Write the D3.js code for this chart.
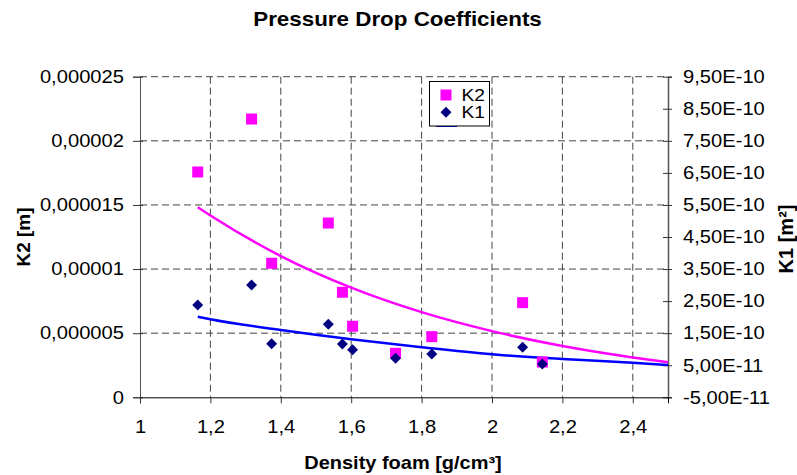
<!DOCTYPE html>
<html>
<head>
<meta charset="utf-8">
<script src="https://cdn.jsdelivr.net/npm/d3@7"></script>
<style>
  body { margin: 0; background: #fff; }
  text { font-family: Arial, "Liberation Sans", sans-serif; fill: #000; }
</style>
</head>
<body>
<div id="vis"></div>
<script>
'use strict';

// values
var density = [1.164, 1.317, 1.374, 1.535, 1.575, 1.604, 1.726, 1.829, 2.087, 2.143];
var k2 = [1.757e-5, 2.170e-5, 1.045e-5, 1.359e-5, 0.819e-5, 0.554e-5, 0.343e-5, 0.473e-5, 0.738e-5, 0.275e-5];
var k1 = [2.379e-10, 3.003e-10, 1.172e-10, 1.777e-10, 1.163e-10, 0.985e-10, 0.716e-10, 0.851e-10, 1.060e-10, 0.539e-10];

// trend lines as they appear in the picture
var trendX = [1.164, 1.2, 1.4, 1.6, 1.8, 2.0, 2.2, 2.4, 2.5];
var k2Trend = [1.482e-5, 1.418e-5, 1.101e-5, 0.855e-5, 0.664e-5, 0.516e-5, 0.400e-5, 0.311e-5, 0.274e-5];
var k1Trend = [2.014e-10, 1.933e-10, 1.599e-10, 1.309e-10, 1.060e-10, 0.841e-10, 0.695e-10, 0.579e-10, 0.507e-10];

// tick values and labels
var xTicks = [1, 1.2, 1.4, 1.6, 1.8, 2, 2.2, 2.4];
var xTickLabels = ['1', '1,2', '1,4', '1,6', '1,8', '2', '2,2', '2,4'];
var leftTicks = [0, 0.000005, 0.00001, 0.000015, 0.00002, 0.000025];
var leftTickLabels = ['0', '0,000005', '0,00001', '0,000015', '0,00002', '0,000025'];
var rightTicks = [-5e-11, 5e-11, 1.5e-10, 2.5e-10, 3.5e-10, 4.5e-10, 5.5e-10, 6.5e-10, 7.5e-10, 8.5e-10, 9.5e-10];
var rightTickLabels = ['-5,00E-11', '5,00E-11', '1,50E-10', '2,50E-10', '3,50E-10', '4,50E-10',
                       '5,50E-10', '6,50E-10', '7,50E-10', '8,50E-10', '9,50E-10'];

var width = 797, height = 475;
var plot = { left: 140, right: 668, top: 76.7, bottom: 397.3 };
var stretch = 1.12; // the text in the picture is a bit wider than Arial

var svg = d3.select('#vis').append('svg')
    .attr('width', width)
    .attr('height', height);
svg.append('rect').attr('width', width).attr('height', height).attr('fill', '#fff');

var x = d3.scaleLinear().domain([1, 2.5]).range([plot.left, plot.right]);
var yL = d3.scaleLinear().domain([0, 0.000025]).range([plot.bottom, plot.top]);
var yR = d3.scaleLinear().domain([-5e-11, 9.5e-10]).range([plot.bottom, plot.top]);

// grid
var grid = svg.append('g').attr('stroke', '#444').attr('stroke-dasharray', '7,4').attr('stroke-width', 1);
grid.selectAll('.h').data(leftTicks.slice(1)).enter().append('line')
    .attr('x1', plot.left).attr('x2', plot.right)
    .attr('y1', function(d) { return yL(d); }).attr('y2', function(d) { return yL(d); });
grid.selectAll('.v').data(xTicks.slice(1)).enter().append('line')
    .attr('y1', plot.top).attr('y2', plot.bottom)
    .attr('x1', function(d) { return x(d); }).attr('x2', function(d) { return x(d); });

// axes
var leftAxis = d3.axisLeft(yL).tickValues(leftTicks)
    .tickFormat(function(d, i) { return leftTickLabels[i]; }).tickSizeOuter(0).tickSize(7);
var gl = svg.append('g').attr('transform', 'translate(' + plot.left + ',0)').call(leftAxis);
gl.select('.domain').attr('stroke', '#555');
gl.selectAll('.tick line').attr('stroke', '#333').attr('x1', 3);
gl.selectAll('.tick text').attr('x', 0).attr('transform', 'translate(-16,0) scale(' + stretch + ',1)');

var rightAxis = d3.axisRight(yR).tickValues(rightTicks)
    .tickFormat(function(d, i) { return rightTickLabels[i]; }).tickSizeOuter(0).tickSize(4);
var gr = svg.append('g').attr('transform', 'translate(' + plot.right + ',0)').call(rightAxis);
gr.select('.domain').attr('stroke', '#555').attr('stroke-width', 1.5);
gr.selectAll('.tick line').attr('stroke', '#333').attr('x1', -5);
gr.selectAll('.tick text').attr('x', 0).attr('transform', 'translate(15,0) scale(' + stretch + ',1)');

var bottomAxis = d3.axisBottom(x).tickValues(xTicks)
    .tickFormat(function(d, i) { return xTickLabels[i]; }).tickSizeOuter(0).tickSize(6);
var gb = svg.append('g').attr('transform', 'translate(0,' + plot.bottom + ')').call(bottomAxis);
gb.select('.domain').attr('stroke', '#000');
gb.selectAll('.tick line').attr('stroke', '#333');
gb.selectAll('.tick text').attr('y', 0).attr('dy', 0)
    .attr('transform', 'translate(0,36) scale(' + stretch + ',1)');

svg.selectAll('.tick text').attr('font-size', 18).attr('font-family', 'Arial, "Liberation Sans", sans-serif');

// trend lines
var lineK2 = d3.line().x(function(d, i) { return x(trendX[i]); }).y(function(d) { return yL(d); })
    .curve(d3.curveMonotoneX);
var lineK1 = d3.line().x(function(d, i) { return x(trendX[i]); }).y(function(d) { return yR(d); })
    .curve(d3.curveMonotoneX);
svg.append('path').attr('d', lineK2(k2Trend)).attr('fill', 'none')
    .attr('stroke', '#ff00ff').attr('stroke-width', 2.5);
svg.append('path').attr('d', lineK1(k1Trend)).attr('fill', 'none')
    .attr('stroke', '#0000ff').attr('stroke-width', 2.5);

// markers
var square = d3.symbol().type(d3.symbolSquare).size(121);
var diamond = d3.symbol().type(d3.symbolSquare).size(60);
svg.append('g').selectAll('path').data(density).enter().append('path')
    .attr('d', square)
    .attr('transform', function(d, i) { return 'translate(' + x(d) + ',' + yL(k2[i]) + ')'; })
    .attr('fill', '#ff00ff');
svg.append('g').selectAll('path').data(density).enter().append('path')
    .attr('d', diamond)
    .attr('transform', function(d, i) { return 'translate(' + x(d) + ',' + yR(k1[i]) + ') rotate(45)'; })
    .attr('fill', '#000080');

// legend
var legend = svg.append('g');
legend.append('line').attr('x1', 436).attr('x2', 457).attr('y1', 126).attr('y2', 126)
    .attr('stroke', '#0000ff').attr('stroke-width', 2);
legend.append('rect').attr('x', 429.5).attr('y', 81.5).attr('width', 60).attr('height', 44.5)
    .attr('fill', '#fff').attr('stroke', '#000').attr('stroke-width', 1);
legend.append('path').attr('d', square).attr('transform', 'translate(446,95)').attr('fill', '#ff00ff');
legend.append('path').attr('d', diamond).attr('transform', 'translate(446,112.3) rotate(45)').attr('fill', '#000080');
legend.append('text').attr('transform', 'translate(461.5,100.5) scale(1.2,1)').attr('font-size', 16).text('K2');
legend.append('text').attr('transform', 'translate(461.5,118) scale(1.2,1)').attr('font-size', 16).text('K1');

// titles
svg.append('text').attr('transform', 'translate(397.5,26) scale(' + stretch + ',1)')
    .attr('text-anchor', 'middle').attr('font-size', 20).attr('font-weight', 'bold')
    .text('Pressure Drop Coefficients');
svg.append('text').attr('transform', 'translate(403,469) scale(1.11,1)')
    .attr('text-anchor', 'middle').attr('font-size', 18).attr('font-weight', 'bold')
    .text('Density foam [g/cm³]');
svg.append('text').attr('transform', 'translate(30,237) rotate(-90)')
    .attr('text-anchor', 'middle').attr('font-size', 19).attr('font-weight', 'bold')
    .text('K2 [m]');
svg.append('text').attr('transform', 'translate(793,239) rotate(-90)')
    .attr('text-anchor', 'middle').attr('font-size', 20).attr('font-weight', 'bold')
    .text('K1 [m²]');
</script>
</body>
</html>
